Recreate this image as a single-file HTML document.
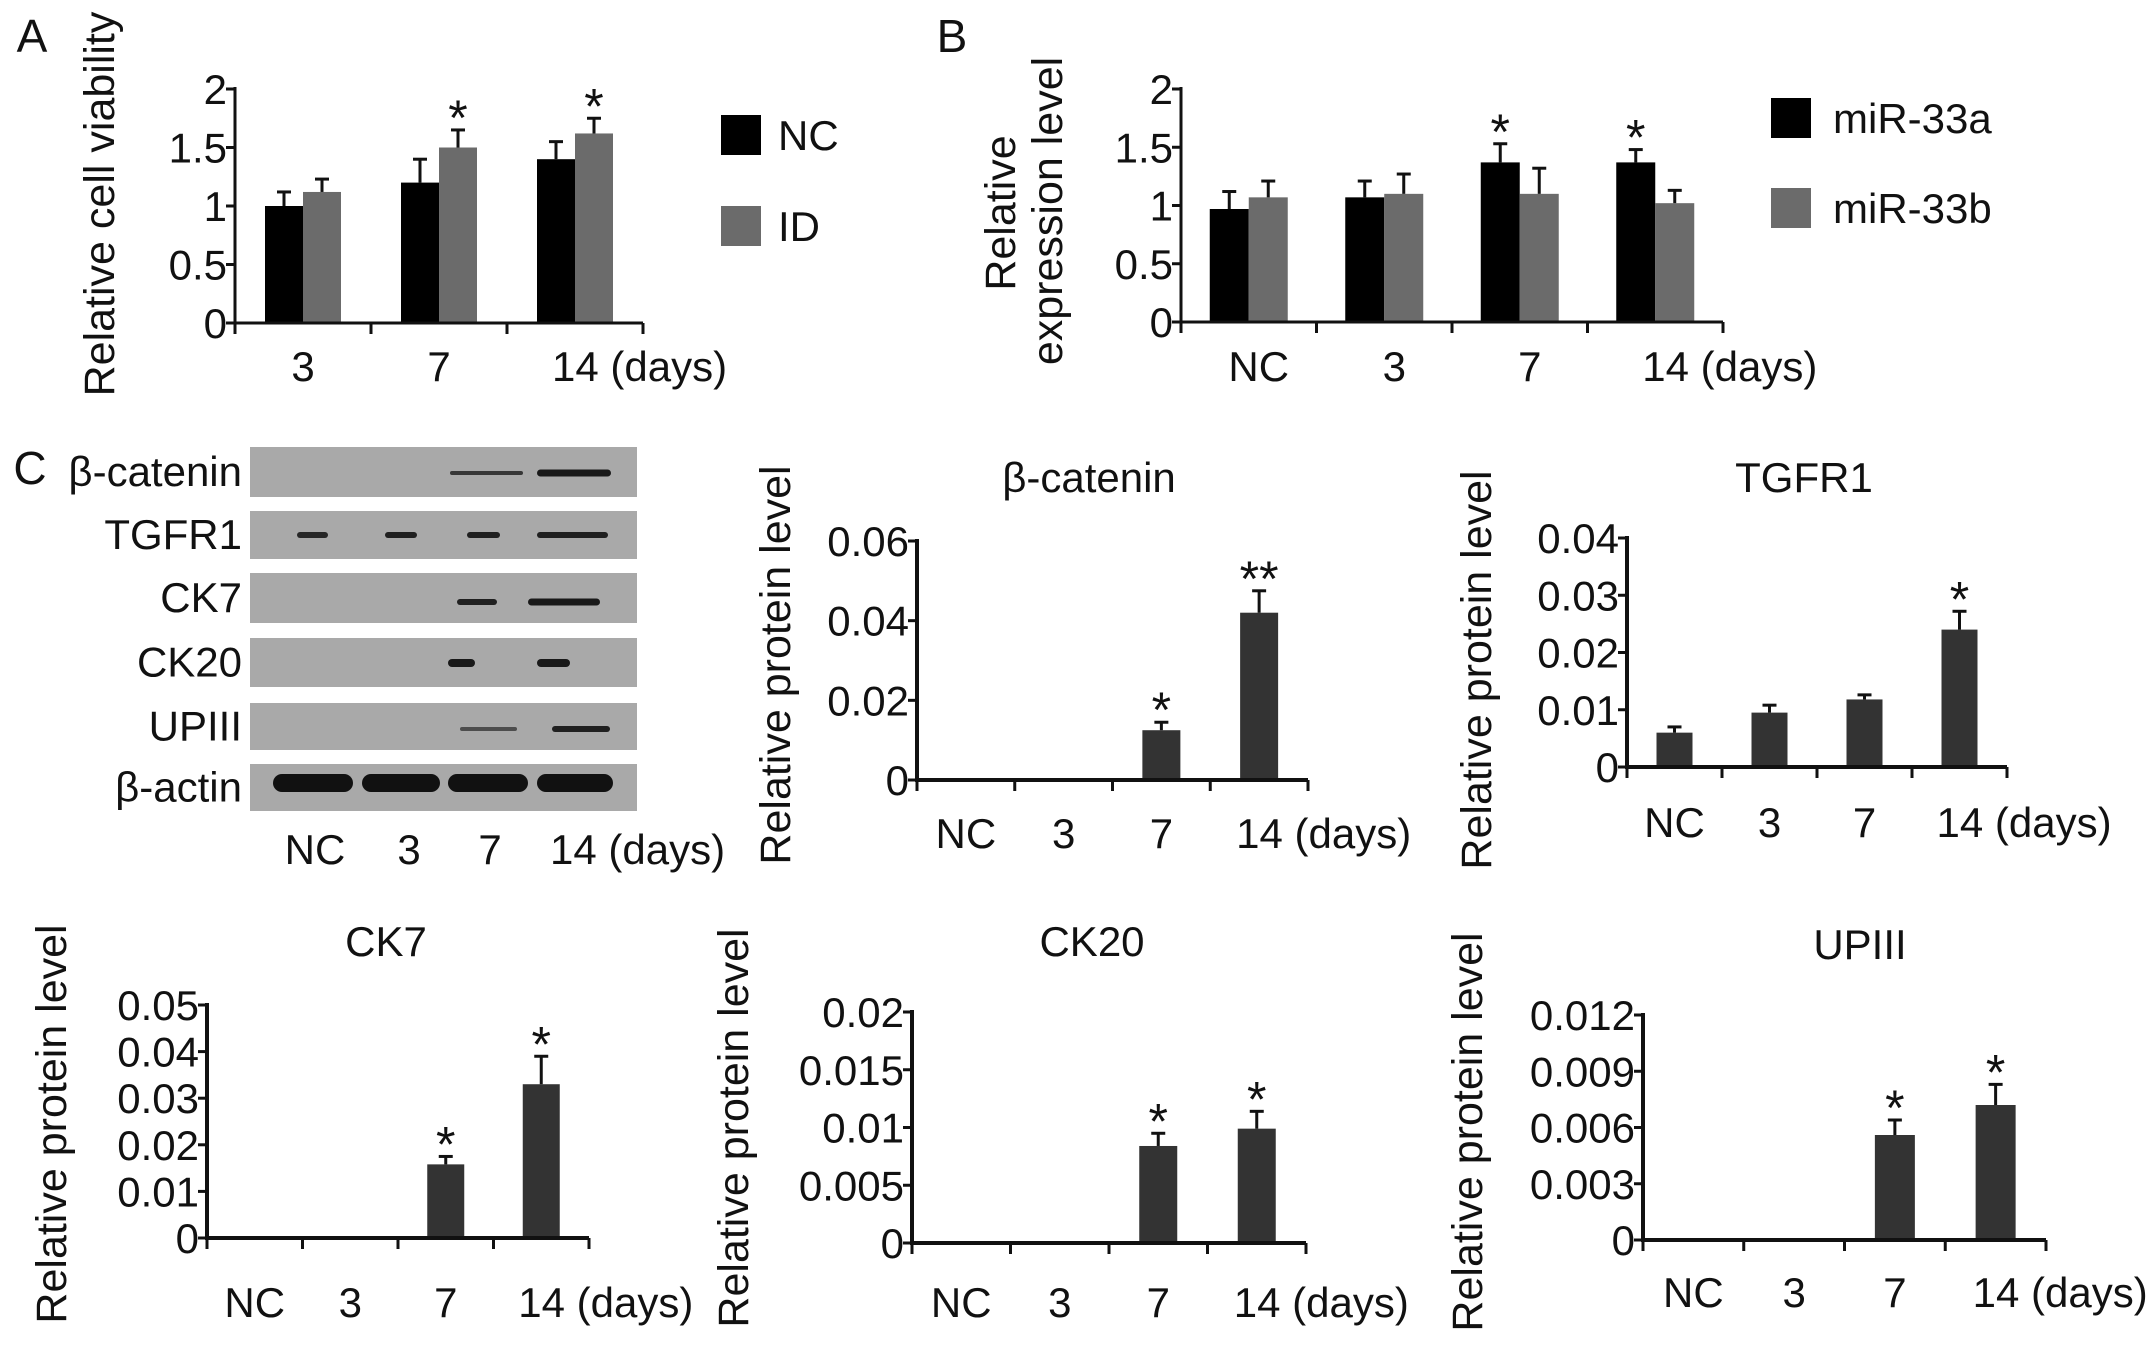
<!DOCTYPE html>
<html><head><meta charset="utf-8">
<style>
html,body{margin:0;padding:0;background:#fff;}
svg{display:block;}
text{font-family:"Liberation Sans",Arial,sans-serif;fill:#111;}
</style></head>
<body>
<svg id="fig" xmlns="http://www.w3.org/2000/svg" width="2150" height="1357" viewBox="0 0 2150 1357">
<rect x="0" y="0" width="2150" height="1357" fill="#fff"/>
<g id="root"></g>
</svg>
<script>
// ---------- data ----------
var catsA = ["3","7","14"];
var nameA = ["NC","ID"];
var valsA_NC = [1.0, 1.2, 1.4];
var errsA_NC = [0.12, 0.2, 0.15];
var valsA_ID = [1.12, 1.5, 1.62];
var errsA_ID = [0.11, 0.15, 0.13];
var sigA_ID = ["", "*", "*"];
var ticksA = ["0","0.5","1","1.5","2"];

var catsB = ["NC","3","7","14"];
var nameB = ["miR-33a","miR-33b"];
var valsB_a = [0.97, 1.07, 1.37, 1.37];
var errsB_a = [0.15, 0.14, 0.16, 0.11];
var valsB_b = [1.07, 1.1, 1.1, 1.02];
var errsB_b = [0.14, 0.17, 0.22, 0.11];
var sigB_a = ["", "", "*", "*"];
var ticksB = ["0","0.5","1","1.5","2"];

var catsP = ["NC","3","7","14"];
var valsBcat = [0.0002, 0.0002, 0.0125, 0.042];
var errsBcat = [0, 0, 0.002, 0.0055];
var sigBcat = ["", "", "*", "**"];
var ticksBcat = ["0","0.02","0.04","0.06"];

var valsTgf = [0.006, 0.0095, 0.0118, 0.024];
var errsTgf = [0.001, 0.0013, 0.0008, 0.0032];
var sigTgf = ["", "", "", "*"];
var ticksTgf = ["0","0.01","0.02","0.03","0.04"];

var valsCk7 = [0.0002, 0.0002, 0.0158, 0.033];
var errsCk7 = [0, 0, 0.0017, 0.006];
var sigCk7 = ["", "", "*", "*"];
var ticksCk7 = ["0","0.01","0.02","0.03","0.04","0.05"];

var valsCk20 = [0.0001, 0.0001, 0.0084, 0.0099];
var errsCk20 = [0, 0, 0.0011, 0.0015];
var sigCk20 = ["", "", "*", "*"];
var ticksCk20 = ["0","0.005","0.01","0.015","0.02"];

var valsUp = [0.00005, 0.00005, 0.0056, 0.0072];
var errsUp = [0, 0, 0.0008, 0.0011];
var sigUp = ["", "", "*", "*"];
var ticksUp = ["0","0.003","0.006","0.009","0.012"];

// ---------- drawing ----------
var S = 1;
var FS = 42;
var AS = 50;
var NS = "http://www.w3.org/2000/svg";
var root = document.getElementById('root');
function el(tag, attrs, parent){
  var e = document.createElementNS(NS, tag);
  for (var k in attrs) e.setAttribute(k, attrs[k]);
  (parent||root).appendChild(e);
  return e;
}
function txt(x, y, s, size, anchor, parent, name){
  var t = el('text', {x:x/S, y:y, 'font-size':size, 'text-anchor':anchor||'middle'}, parent);
  t.textContent = s;
  
  
  return t;
}
function vtext(cx, cy, s, size, parent, name){
  var t = el('text', {x:0, y:0, 'font-size':size, 'text-anchor':'middle',
    transform:'translate(' + (cx/S) + ',' + cy + ') rotate(-90)'}, parent);
  t.textContent = s;
  
  
  return t;
}

function chart(cfg){
  var g = el('g', {});
  
  
  var n = cfg.cats.length;
  var band = (cfg.x1 - cfg.x0) / n;
  function xs(i){ return cfg.x0 + band * (i + 0.5); }
  function ys(v){ return cfg.y0 - (v / cfg.ymax) * (cfg.y0 - cfg.yT); }
  var sw = cfg.sw || 4;
  var ns = cfg.series.length;
  for (var s = 0; s < ns; s++){
    var ser = cfg.series[s];
    for (var i = 0; i < n; i++){
      var c = xs(i);
      var left = c - cfg.bw * ns / 2 + cfg.bw * s;
      var top = ys(ser.vals[i]);
      var r = el('rect', {x:left/S, y:top, width:cfg.bw/S, height:Math.max(0, cfg.y0 - top), fill:ser.color}, g);
      
      
      var bc = left + cfg.bw/2;
      if (ser.errs[i] > 0){
        var et = ys(ser.vals[i] + ser.errs[i]);
        var l = el('line', {x1:bc/S, x2:bc/S, y1:top, y2:et, stroke:'#111', 'stroke-width':3}, g);
        
        
        var cp = el('line', {x1:(bc-7)/S, x2:(bc+7)/S, y1:et, y2:et, stroke:'#111', 'stroke-width':3}, g);
        
        
        if (ser.sig && ser.sig[i]) txt(bc, et + 5, ser.sig[i], AS, 'middle', g, 'significance-marker');
      } else if (ser.sig && ser.sig[i]) {
        txt(bc, top + 5, ser.sig[i], AS, 'middle', g, 'significance-marker');
      }
    }
  }
  var ax = el('path', {d:'M' + cfg.x0/S + ' ' + (cfg.yT-2) + ' L' + cfg.x0/S + ' ' + cfg.y0 + ' L' + cfg.x1/S + ' ' + cfg.y0,
    fill:'none', stroke:'#111', 'stroke-width':sw}, g);
  
  
  var nt = cfg.ticks.length;
  for (var k = 0; k < nt; k++){
    var v = cfg.ymax * k / (nt - 1);
    var yy = ys(v);
    var tk = el('line', {x1:(cfg.x0-9)/S, x2:cfg.x0/S, y1:yy, y2:yy, stroke:'#111', 'stroke-width':3}, g);
    
    
    txt(cfg.x0 - 8, yy + 15, cfg.ticks[k], FS, 'end', g, 'y-tick-label');
  }
  for (var j = 0; j <= n; j++){
    var xx = cfg.x0 + band * j;
    var xt = el('line', {x1:xx/S, x2:xx/S, y1:cfg.y0, y2:cfg.y0 + 11, stroke:'#111', 'stroke-width':3}, g);
    
    
  }
  for (var i2 = 0; i2 < n; i2++){
    var lab = cfg.cats[i2];
    var cx = xs(i2) + (cfg.labOff || 0);
    if (i2 === n - 1){
      txt(cx - 23, cfg.labY, lab + " (days)", FS, 'start', g, 'x-tick-label');
    } else {
      txt(cx, cfg.labY, lab, FS, 'middle', g, 'x-tick-label');
    }
  }
  if (cfg.title) txt(cfg.titleX, cfg.titleY, cfg.title, FS, 'middle', g, 'chart-title');
  return g;
}

txt(32, 52, "A", 46, 'middle', null, 'panel-label-a');
txt(952, 52, "B", 46, 'middle', null, 'panel-label-b');
txt(30, 484, "C", 46, 'middle', null, 'panel-label-c');

chart({name:'chart-cell-viability', x0:235, x1:643, y0:323, yT:89, ymax:2, bw:38, sw:3,
  cats:catsA, ticks:ticksA, labY:381,
  series:[{vals:valsA_NC, errs:errsA_NC, color:'#000'},
          {vals:valsA_ID, errs:errsA_ID, color:'#6b6b6b', sig:sigA_ID}]});
vtext(114, 204, "Relative cell viability", 43, null, 'y-axis-title-a');
var lg1 = el('rect', {x:721/S, y:115, width:40/S, height:40, fill:'#000'});


txt(778, 150, nameA[0], FS, 'start', null, 'legend-entry-nc');
var lg2 = el('rect', {x:721/S, y:206, width:40/S, height:40, fill:'#6b6b6b'});


txt(778, 241, nameA[1], FS, 'start', null, 'legend-entry-id');

chart({name:'chart-expression-level', x0:1181, x1:1723, y0:322, yT:89, ymax:2, bw:39, sw:3, labOff:10,
  cats:catsB, ticks:ticksB, labY:381,
  series:[{vals:valsB_a, errs:errsB_a, color:'#000', sig:sigB_a},
          {vals:valsB_b, errs:errsB_b, color:'#6b6b6b'}]});
vtext(1015, 213, "Relative", 43, null, 'y-axis-title-b-line1');
vtext(1062, 211, "expression level", 43, null, 'y-axis-title-b-line2');
var lg3 = el('rect', {x:1771/S, y:98, width:40/S, height:40, fill:'#000'});


txt(1833, 133, nameB[0], FS, 'start', null, 'legend-entry-mir33a');
var lg4 = el('rect', {x:1771/S, y:188, width:40/S, height:40, fill:'#6b6b6b'});


txt(1833, 223, nameB[1], FS, 'start', null, 'legend-entry-mir33b');

var blotRows = ["β-catenin","TGFR1","CK7","CK20","UPIII","β-actin"];
var blotTop = [447, 511, 573, 638, 703, 764];
var blotH = [50, 48, 50, 49, 47, 47];
var bandSpec = [
  [[450,523,473,4,0.75],[537,611,473,7,0.95]],
  [[297,328,535,6,0.85],[385,417,535,6,0.9],[467,500,535,6,0.9],[537,608,535,6,0.9]],
  [[457,497,602,6,0.9],[528,600,602,7,0.95]],
  [[448,475,663,8,0.95],[537,570,663,8,0.95]],
  [[460,517,729,4,0.6],[552,610,729,6,0.9]],
  [[273,353,783,18,1],[362,440,783,18,1],[448,528,783,18,1],[537,613,783,18,1]]
];
var bg = el('g', {});


for (var r = 0; r < 6; r++){
  var st = el('rect', {x:250/S, y:blotTop[r], width:387/S, height:blotH[r], fill:'#a9a9a9'}, bg);
  
  
  for (var b = 0; b < bandSpec[r].length; b++){
    var sp = bandSpec[r][b];
    var bd = el('rect', {x:sp[0]/S, y:sp[2]-sp[3]/2, width:(sp[1]-sp[0])/S, height:sp[3], rx:sp[3]/2, ry:sp[3]/2, fill:'#111', 'fill-opacity':sp[4]}, bg);
    
    
  }
  txt(242, blotTop[r] + blotH[r]/2 + 14, blotRows[r], FS, 'end', bg, 'blot-row-label');
}
var laneX = [315, 409, 490, 550];
var laneL = ["NC","3","7","14 (days)"];
for (var q = 0; q < 4; q++){
  txt(laneX[q], 864, laneL[q], FS, q === 3 ? 'start' : 'middle', bg, 'blot-lane-label');
}

chart({name:'chart-beta-catenin', x0:917, x1:1308, y0:780, yT:541, ymax:0.06, bw:38,
  cats:catsP, ticks:ticksBcat, labY:848, title:"β-catenin", titleX:1089, titleY:492,
  series:[{vals:valsBcat, errs:errsBcat, color:'#333', sig:sigBcat}]});
vtext(790, 665, "Relative protein level", 43, null, 'y-axis-title-beta-catenin');

chart({name:'chart-tgfr1', x0:1627, x1:2007, y0:767, yT:538, ymax:0.04, bw:36,
  cats:catsP, ticks:ticksTgf, labY:837, title:"TGFR1", titleX:1804, titleY:492,
  series:[{vals:valsTgf, errs:errsTgf, color:'#333', sig:sigTgf}]});
vtext(1491, 670, "Relative protein level", 43, null, 'y-axis-title-tgfr1');

chart({name:'chart-ck7', x0:207, x1:589, y0:1238, yT:1005, ymax:0.05, bw:37,
  cats:catsP, ticks:ticksCk7, labY:1317, title:"CK7", titleX:386, titleY:956,
  series:[{vals:valsCk7, errs:errsCk7, color:'#333', sig:sigCk7}]});
vtext(66, 1124, "Relative protein level", 43, null, 'y-axis-title-ck7');

chart({name:'chart-ck20', x0:912, x1:1306, y0:1243, yT:1012, ymax:0.02, bw:38,
  cats:catsP, ticks:ticksCk20, labY:1317, title:"CK20", titleX:1092, titleY:956,
  series:[{vals:valsCk20, errs:errsCk20, color:'#333', sig:sigCk20}]});
vtext(748, 1128, "Relative protein level", 43, null, 'y-axis-title-ck20');

chart({name:'chart-upiii', x0:1643, x1:2046, y0:1240, yT:1015, ymax:0.012, bw:40,
  cats:catsP, ticks:ticksUp, labY:1307, title:"UPIII", titleX:1860, titleY:959,
  series:[{vals:valsUp, errs:errsUp, color:'#333', sig:sigUp}]});
vtext(1482, 1132, "Relative protein level", 43, null, 'y-axis-title-upiii');
</script>
</body></html>
